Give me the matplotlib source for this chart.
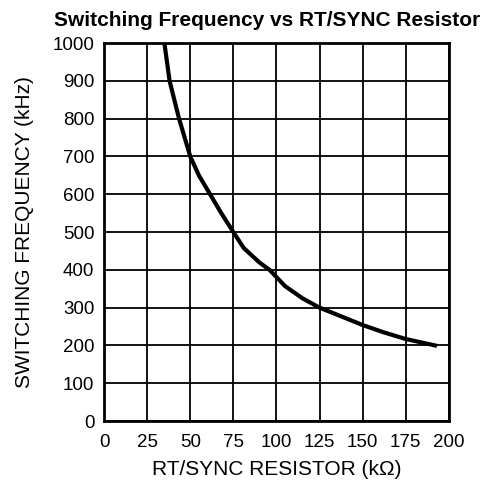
import matplotlib.pyplot as plt

# curva
res_kohm = [35, 38, 43.5, 50, 55, 61.5, 68, 75, 81, 90, 96, 105, 115, 125, 137, 150, 162, 175, 192]
freq_khz = [1000, 900, 800, 700, 650, 600, 550, 500, 458, 420, 400, 357, 325, 300, 278, 254, 235, 217, 200]

plt.rcParams['font.family'] = ['Liberation Sans', 'DejaVu Sans']

fig = plt.figure(figsize=(4.91, 4.87), dpi=100)
ax = fig.add_axes([0.212, 0.1355, 0.702, 0.776])

ax.plot(res_kohm, freq_khz, color='black', linewidth=3, zorder=3)

ax.set_xlim(0, 200)
ax.set_ylim(0, 1000)
ax.set_xticks(range(0, 201, 25))
ax.set_yticks(range(0, 1001, 100))
ax.tick_params(length=0, labelsize=13.5)
ax.tick_params(axis='x', pad=9)
ax.tick_params(axis='y', pad=7)
ax.grid(True, color='black', linewidth=1.3)
for s in ax.spines.values():
    s.set_linewidth(2)

ax.set_xlabel("RT/SYNC RESISTOR (k\u03a9)", fontsize=15, labelpad=7)
ax.set_ylabel("SWITCHING FREQUENCY (kHz)", fontsize=15, labelpad=13)
fig.text(0.544, 0.957, "Switching Frequency vs RT/SYNC Resistor", fontsize=15,
         fontweight='bold', ha='center', va='center')

plt.savefig("out.png", dpi=100)
